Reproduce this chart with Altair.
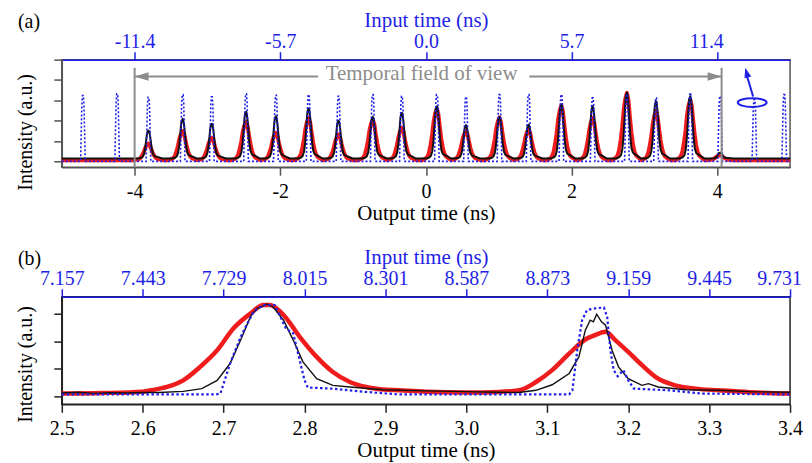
import altair as alt
import pandas as pd

SERIF = "Liberation Serif"
BLUE = "#1f1fe6"
RED = "#ee1c1c"
BLACK = "#111111"
GRAY = "#8c8c8c"
FRAME_A = "#555555"
FRAME_B = "#222222"

# ---------------- Panel (a): whole record ----------------
a_x_domain = [-5.0, 5.0]
a_y_domain = [-0.29, 5.0]
a_bottom_ticks = [-4, -2, 0, 2, 4]
a_bottom_labels = ["-4", "-2", "0", "2", "4"]
a_top_labels = ["-11.4", "-5.7", "0.0", "5.7", "11.4"]
a_y_ticks = [0, 1, 2, 3, 4, 5]

# output pulses (peak time in ns, peak heights of black and red traces)
a_out_t = [-3.81, -3.34, -2.94, -2.47, -2.06, -1.61, -1.20, -0.73, -0.33, 0.15,
           0.55, 1.01, 1.41, 1.86, 2.29, 2.76, 3.16, 3.63, 4.04]
a_black_peak = [1.52, 2.09, 1.85, 2.44, 2.22, 2.60, 2.00, 2.19, 2.39, 2.71,
                1.78, 2.19, 1.81, 2.79, 2.71, 3.37, 2.96, 3.20, 0.43]
a_red_peak = [0.87, 1.49, 1.16, 1.95, 1.40, 2.14, 1.32, 2.05, 1.65, 2.60,
              1.49, 2.15, 1.57, 2.75, 2.14, 3.37, 2.47, 3.04, 0.30]
# input pulses (blue dotted)
a_in_t = [-4.71, -4.24, -3.81, -3.34, -2.94, -2.47, -2.06, -1.61, -1.20, -0.73,
          -0.33, 0.15, 0.55, 1.01, 1.41, 1.86, 2.29, 2.76, 3.16, 3.63, 4.04, 4.51, 4.92]
a_blue_peak = [3.24, 3.32, 3.15, 3.28, 3.17, 3.32, 3.25, 3.28, 3.20, 3.28,
               3.20, 3.28, 3.17, 3.28, 3.28, 3.28, 3.12, 3.30, 3.12, 3.37, 3.20, 3.04, 3.28]
a_black_base = 0.14
a_red_base = 0.06
a_blue_base = 0.0

# pulse profiles: offset from peak (ns), fraction of peak
black_dt = [-0.145, -0.105, -0.082, -0.063, -0.047, -0.034, -0.022, -0.014, 0.0, 0.008,
            0.021, 0.033, 0.045, 0.062, 0.082, 0.103, 0.144, 0.19]
black_f = [0.0, 0.02, 0.05, 0.14, 0.33, 0.59, 0.85, 0.95, 1.0, 0.97,
           0.82, 0.59, 0.35, 0.16, 0.09, 0.07, 0.04, 0.0]
red_dt = [-0.2, -0.147, -0.127, -0.107, -0.086, -0.065, -0.045, -0.024, 0.0, 0.021,
          0.041, 0.062, 0.082, 0.103, 0.123, 0.144, 0.2]
red_f = [0.0, 0.04, 0.075, 0.15, 0.30, 0.49, 0.74, 0.90, 1.0, 0.89,
         0.64, 0.41, 0.24, 0.13, 0.075, 0.05, 0.0]
blue_dt = [-0.032, -0.022, -0.014, -0.006, 0.006, 0.014, 0.022, 0.032]
blue_f = [0.0, 0.5, 0.88, 1.0, 1.0, 0.88, 0.5, 0.0]

# annotations of panel (a)
fov_t = [-4.0, 4.06]
fov_top = 4.6
fov_arrow_v = 4.17
fov_arrow_t = [-4.0, 1.42]
fov_arrow_t2 = [-1.48, 4.06]
fov_text_t = -0.06
fov_text_v = 4.31
ell_t, ell_v = 4.48, 2.89
barrow_t, barrow_v, barrow_t2, barrow_v2 = 4.493, 3.19, 4.40, 4.30
bhead_t, bhead_v = 4.385, 4.60

# ---------------- Panel (b): zoom on two pulses ----------------
b_x_domain = [2.5, 3.4]
b_y_domain = [-0.29, 3.61]
b_bottom_ticks = [2.5, 2.6, 2.7, 2.8, 2.9, 3.0, 3.1, 3.2, 3.3, 3.4]
b_bottom_labels = ["2.5", "2.6", "2.7", "2.8", "2.9", "3.0", "3.1", "3.2", "3.3", "3.4"]
b_top_labels = ["7.157", "7.443", "7.729", "8.015", "8.301", "8.587", "8.873", "9.159", "9.445", "9.731"]
b_y_ticks = [0, 1, 2, 3]

b_red_t = [2.5, 2.55, 2.6, 2.61, 2.63, 2.65, 2.671, 2.692, 2.712, 2.733, 2.749, 2.757,
           2.774, 2.794, 2.815, 2.835, 2.856, 2.876, 2.897, 2.917, 2.95, 3.0, 3.04,
           3.065, 3.086, 3.106, 3.127, 3.147, 3.159, 3.172, 3.184, 3.2, 3.217, 3.237,
           3.258, 3.283, 3.312, 3.35, 3.4]
b_red_v = [0.10, 0.12, 0.17, 0.22, 0.34, 0.58, 1.07, 1.67, 2.46, 3.00, 3.31, 3.31,
           2.95, 2.16, 1.43, 0.88, 0.52, 0.34, 0.25, 0.22, 0.17, 0.14, 0.16,
           0.22, 0.52, 0.95, 1.55, 2.06, 2.22, 2.34, 2.04, 1.61, 1.13, 0.64,
           0.40, 0.28, 0.22, 0.15, 0.10]

b_blk_t = [2.5, 2.52, 2.54, 2.56, 2.58, 2.6, 2.62, 2.65, 2.673, 2.692, 2.708, 2.721,
           2.733, 2.741, 2.747, 2.753, 2.761, 2.774, 2.786, 2.798, 2.815, 2.835, 2.856,
           2.897, 2.95, 3.0, 3.04, 3.065, 3.086, 3.106, 3.127, 3.139, 3.147, 3.153,
           3.157, 3.161, 3.167, 3.172, 3.18, 3.188, 3.2, 3.217, 3.225, 3.237, 3.271,
           3.312, 3.35, 3.4]
b_blk_v = [0.12, 0.15, 0.11, 0.13, 0.12, 0.14, 0.14, 0.18, 0.28, 0.58, 1.19, 2.04,
           2.88, 3.19, 3.24, 3.35, 3.25, 2.76, 2.04, 1.25, 0.64, 0.40, 0.34,
           0.24, 0.20, 0.17, 0.15, 0.14, 0.22, 0.42, 0.83, 1.43, 2.40, 2.76,
           2.70, 2.98, 2.70, 2.58, 1.67, 1.07, 0.64, 0.40, 0.46, 0.34, 0.24,
           0.22, 0.17, 0.15]

b_blu_t = [2.5, 2.6, 2.69, 2.696, 2.708, 2.721, 2.737, 2.749, 2.763, 2.771, 2.777,
           2.786, 2.792, 2.8, 2.804, 2.835, 2.876, 2.917, 3.0, 3.127, 3.131, 3.137,
           3.143, 3.149, 3.159, 3.17, 3.174, 3.178, 3.182, 3.187, 3.194, 3.2, 3.207,
           3.25, 3.291, 3.4]
b_blu_v = [0.07, 0.07, 0.07, 0.10, 1.19, 2.16, 3.07, 3.31, 3.31, 2.83, 2.46,
           2.28, 1.55, 0.58, 0.32, 0.28, 0.16, 0.07, 0.07, 0.07, 0.22, 1.67,
           2.76, 3.13, 3.19, 3.22, 2.88, 1.67, 0.95, 0.73, 0.95, 0.58, 0.28,
           0.22, 0.10, 0.07]

Y_TITLE = "Intensity (a.u.)"


def train(centers, peaks, base, dts, fs, lo, hi):
    ts, vs = [lo], [base]
    for c, p in zip(centers, peaks):
        for d, f in zip(dts, fs):
            ts.append(round(c + d, 4))
            vs.append(round(base + f * (p - base), 4))
    ts.append(hi)
    vs.append(base)
    return pd.DataFrame({"t": ts, "v": vs}).sort_values("t", kind="stable")


def label_expr(vals, labels):
    lab = ",".join("'%s'" % s for s in labels)
    val = ",".join(repr(v) for v in vals)
    return "[%s][indexof([%s], datum.value)]" % (lab, val)


def axes(frame, bticks, blabels, tlabels, yticks):
    bottom = alt.Axis(orient="bottom", values=bticks, labelExpr=label_expr(bticks, blabels),
                      title="Output time (ns)", tickSize=8, tickWidth=1.5, tickColor=frame,
                      domainColor=frame, domainWidth=1.5, labelFont=SERIF, labelFontSize=20,
                      labelColor="black", labelPadding=6, titleFont=SERIF, titleFontSize=21,
                      titleFontWeight="normal", titleColor="black", titlePadding=1,
                      grid=False, labelFlush=False, labelOverlap=False)
    # the last top label is nudged left so that it stays inside the page
    top = alt.Axis(orient="top", values=bticks, labelExpr=label_expr(bticks, tlabels),
                   title="Input time (ns)", tickSize=8, tickWidth=1.5, tickColor=BLUE,
                   domainColor=BLUE, domainWidth=1.5, labelFont=SERIF, labelFontSize=20,
                   labelColor=BLUE, labelPadding=0, titleFont=SERIF, titleFontSize=21,
                   titleFontWeight="normal", titleColor=BLUE, titlePadding=1,
                   labelOffset={"condition": {"test": "datum.value == %r" % bticks[-1], "value": -11},
                                "value": 0},
                   grid=False, labelFlush=False, labelOverlap=False)
    left = alt.Axis(orient="left", values=yticks, labels=False, tickSize=8, tickWidth=1.5,
                    tickColor=frame, domainColor=frame, domainWidth=1.5, title=None,
                    grid=False)
    return bottom, top, left


def panel(letter, xdom, ydom, frame, bticks, blabels, tlabels, yticks, title_y,
          line_layers_fn, extra_fn):
    bottom, top, left = axes(frame, bticks, blabels, tlabels, yticks)
    xs = alt.Scale(domain=xdom, nice=False, zero=False)
    ys = alt.Scale(domain=ydom, nice=False, zero=False)
    X = alt.X("t:Q", scale=xs, axis=bottom)
    Y = alt.Y("v:Q", scale=ys, axis=left)
    layers = line_layers_fn(X, Y) + extra_fn(X, Y)
    lab = alt.Chart(pd.DataFrame({"label": [letter]})).mark_text(
        align="left", baseline="middle", font=SERIF, fontSize=20, color="black"
    ).encode(x=alt.value(-44), y=alt.value(-38), text="label:N")
    ytitle = alt.Chart(pd.DataFrame({"label": [Y_TITLE]})).mark_text(
        align="center", baseline="middle", angle=270, font=SERIF, fontSize=20, color="black"
    ).encode(x=alt.value(-36), y=alt.value(title_y), text="label:N")
    inner = alt.layer(*layers, lab, ytitle)
    top_layer = alt.Chart(pd.DataFrame({"t": xdom})).mark_point(opacity=0).encode(
        x=alt.X("t:Q", scale=alt.Scale(domain=xdom, nice=False, zero=False), axis=top),
        y=alt.value(0))
    return alt.layer(inner, top_layer).resolve_scale(x="independent").properties(
        width=731, height=108, view=alt.ViewBackground(stroke=frame, strokeWidth=1.5))


df_a_red = train(a_out_t, a_red_peak, a_red_base, red_dt, red_f, *a_x_domain)
df_a_blk = train(a_out_t, a_black_peak, a_black_base, black_dt, black_f, *a_x_domain)
df_a_blu = train(a_in_t, a_blue_peak, a_blue_base, blue_dt, blue_f, *a_x_domain)


def lines_a(X, Y):
    return [
        alt.Chart(df_a_red).mark_line(color=RED, strokeWidth=4, strokeJoin="round").encode(x=X, y=Y),
        alt.Chart(df_a_blk).mark_line(color=BLACK, strokeWidth=2, strokeJoin="round").encode(x=X, y=Y),
        alt.Chart(df_a_blu).mark_line(color=BLUE, strokeWidth=1.6, strokeDash=[2, 2]).encode(x=X, y=Y),
    ]


LEFT_HEAD = "M0,0L2,-0.6L2,0.6Z"
RIGHT_HEAD = "M0,0L-2,-0.6L-2,0.6Z"
UP_HEAD = "M0,0L0.7,2L-0.7,2Z"
ELLIPSE = "M-1,0A1,0.3,0,1,1,1,0A1,0.3,0,1,1,-1,0Z"


def extra_a(X, Y):
    fov = alt.Chart(pd.DataFrame({"t": fov_t, "v": [a_y_domain[0]] * 2, "v2": [fov_top] * 2})
                    ).mark_rule(color=GRAY, strokeWidth=2).encode(x=X, y=Y, y2="v2:Q")
    arr = alt.Chart(pd.DataFrame({"t": fov_arrow_t, "t2": fov_arrow_t2, "v": [fov_arrow_v] * 2})
                    ).mark_rule(color=GRAY, strokeWidth=2).encode(x=X, x2="t2:Q", y=Y)
    lh = alt.Chart(pd.DataFrame({"t": [fov_arrow_t[0]], "v": [fov_arrow_v]})).mark_point(
        shape=LEFT_HEAD, size=196, filled=True, color=GRAY, opacity=1, strokeWidth=0).encode(x=X, y=Y)
    rh = alt.Chart(pd.DataFrame({"t": [fov_arrow_t2[1]], "v": [fov_arrow_v]})).mark_point(
        shape=RIGHT_HEAD, size=196, filled=True, color=GRAY, opacity=1, strokeWidth=0).encode(x=X, y=Y)
    txt = alt.Chart(pd.DataFrame({"t": [fov_text_t], "v": [fov_text_v], "s": ["Temporal field of view"]})
                    ).mark_text(font=SERIF, fontSize=21, color=GRAY, baseline="middle").encode(
        x=X, y=Y, text="s:N")
    ell = alt.Chart(pd.DataFrame({"t": [ell_t], "v": [ell_v]})).mark_point(
        shape=ELLIPSE, size=841, filled=False, color=BLUE, strokeWidth=2, opacity=1).encode(x=X, y=Y)
    bl = alt.Chart(pd.DataFrame({"t": [barrow_t], "v": [barrow_v], "t2": [barrow_t2], "v2": [barrow_v2]})
                   ).mark_rule(color=BLUE, strokeWidth=2).encode(x=X, y=Y, x2="t2:Q", y2="v2:Q")
    bh = alt.Chart(pd.DataFrame({"t": [bhead_t], "v": [bhead_v]})).mark_point(
        shape=UP_HEAD, size=100, filled=True, color=BLUE, opacity=1, strokeWidth=0, angle=345
    ).encode(x=X, y=Y)
    return [fov, arr, lh, rh, txt, ell, bl, bh]


df_b_red = pd.DataFrame({"t": b_red_t, "v": b_red_v})
df_b_blk = pd.DataFrame({"t": b_blk_t, "v": b_blk_v})
df_b_blu = pd.DataFrame({"t": b_blu_t, "v": b_blu_v})


def lines_b(X, Y):
    return [
        alt.Chart(df_b_red).mark_line(color=RED, strokeWidth=4.5, strokeJoin="round",
                                      interpolate="monotone").encode(x=X, y=Y),
        alt.Chart(df_b_blk).mark_line(color=BLACK, strokeWidth=1.4).encode(x=X, y=Y),
        alt.Chart(df_b_blu).mark_line(color=BLUE, strokeWidth=2.2, strokeDash=[2.5, 2.5]).encode(x=X, y=Y),
    ]


pa = panel("(a)", a_x_domain, a_y_domain, FRAME_A, a_bottom_ticks, a_bottom_labels,
           a_top_labels, a_y_ticks, 73, lines_a, extra_a)
pb = panel("(b)", b_x_domain, b_y_domain, FRAME_B, b_bottom_ticks, b_bottom_labels,
           b_top_labels, b_y_ticks, 68, lines_b, lambda X, Y: [])

chart = alt.vconcat(pa, pb, spacing=22).properties(
    padding={"left": 7, "top": 0, "right": 0, "bottom": 0}
).configure(font=SERIF)

chart.save("out.html", embed_options={"renderer": "svg", "actions": False})
